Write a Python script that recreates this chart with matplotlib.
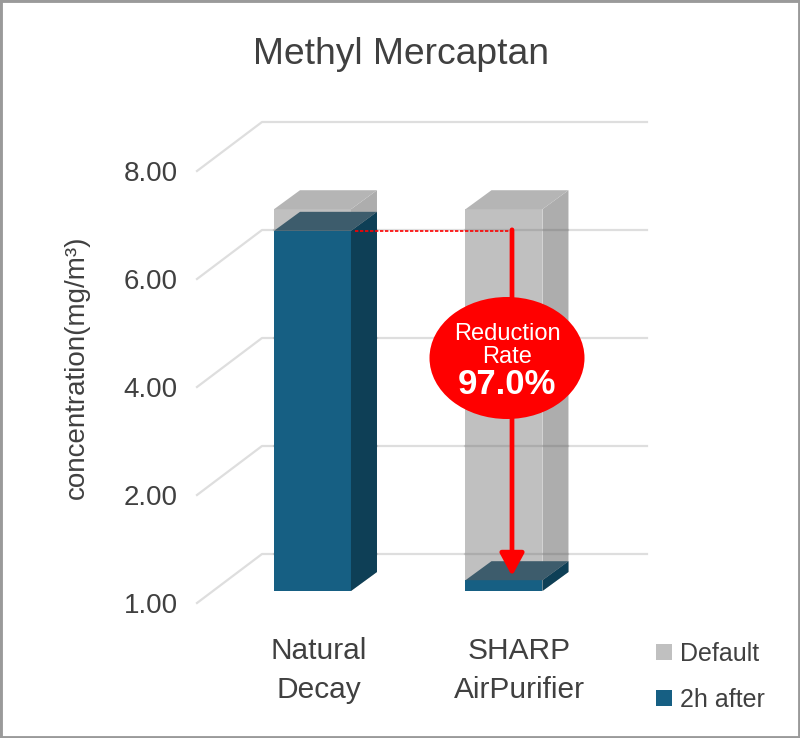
"""Methyl Mercaptan pseudo-3D bar chart. Output: out.png"""
import numpy as np
import matplotlib
matplotlib.use("Agg")
import matplotlib.pyplot as plt
from matplotlib.lines import Line2D
from matplotlib.patches import Ellipse, Patch, Polygon, Rectangle
from matplotlib.transforms import Affine2D, IdentityTransform

plt.rcParams["font.family"] = ["Liberation Sans", "DejaVu Sans"]

W, H = 800, 738
TEXT = "#404040"
GRID = "#dedede"
RED = "#ff0000"

categories = ["Natural\nDecay", "SHARP\nAirPurifier"]
default_vals = [7.07, 7.07]
after_vals = [6.67, 1.10]
tick_vals = [1, 2, 4, 6, 8]
tick_labels = ["1.00", "2.00", "4.00", "6.00", "8.00"]
series_names = ["Default", "2h after"]
reduction = "97.0%"

# pixel offsets of the fake depth
WALL = (65, 49)
FRONT = (16, 12)
BACK = (42, 31)
BAR_W = 0.402


def forward(v):
    return np.interp(v, tick_vals, np.arange(len(tick_vals)))


def inverse(p):
    return np.interp(p, np.arange(len(tick_vals)), tick_vals)


fig = plt.figure(figsize=(W / 100, H / 100), dpi=100, facecolor="white")
ax = fig.add_axes([197 / W, (H - 603) / H, 385 / W, 432 / H])
ax.set_yscale("function", functions=(forward, inverse))
ax.set_xlim(-0.5196, 1.491)
ax.set_ylim(1, 8)
ax.patch.set_visible(False)
for spine in ax.spines.values():
    spine.set_visible(False)
ax.set_xticks([])
ax.yaxis.set_major_locator(matplotlib.ticker.FixedLocator(tick_vals))
ax.yaxis.set_major_formatter(matplotlib.ticker.FixedFormatter(tick_labels))
ax.yaxis.set_minor_locator(matplotlib.ticker.NullLocator())
ax.tick_params(axis="y", length=0, pad=14, labelsize=20, labelcolor=TEXT)

pix = IdentityTransform()


def to_px(x, v):
    return ax.transData.transform((x, v))


def add_poly(pts, color, z):
    ax.add_patch(Polygon(pts, closed=True, facecolor=color, edgecolor="none",
                         transform=pix, clip_on=False, zorder=z))


def box(x, v, front, side, top, z):
    # front face through the axes, moved back by the depth offset
    ax.bar(x, v - 1, bottom=1, width=BAR_W, color=front, zorder=z, clip_on=False,
           transform=ax.transData + Affine2D().translate(*FRONT))
    bl = to_px(x - BAR_W / 2, 1)
    br = to_px(x + BAR_W / 2, 1)
    tl = to_px(x - BAR_W / 2, v)
    tr = to_px(x + BAR_W / 2, v)
    f, b = np.array(FRONT), np.array(BACK)
    add_poly([br + f, br + b, tr + b, tr + f], side, z)
    add_poly([tl + f, tr + f, tr + b, tl + b], top, z)


# grid: front edge, then along the back wall
for v in tick_vals:
    x0, y0 = to_px(-0.5196, v)
    x1, y1 = to_px(1.491, v)
    ax.add_line(Line2D([x0, x0 + WALL[0], x1 + WALL[0]], [y0, y0 + WALL[1], y1 + WALL[1]],
                       color=GRID, lw=1.6, transform=pix, clip_on=False, zorder=1))

for i in range(2):
    box(i, default_vals[i], "#c0c0c0", "#adadad", "#b5b5b5", 2)
    # grid shows faintly through the grey boxes
    base_y = to_px(i, 1)[1] + FRONT[1]
    top_y = to_px(i, default_vals[i])[1] + FRONT[1]
    for v in tick_vals:
        wall_y = to_px(i, v)[1] + WALL[1]
        if base_y <= wall_y <= top_y:
            left = to_px(i - BAR_W / 2, v)[0] + FRONT[0]
            right = to_px(i + BAR_W / 2, v)[0] + BACK[0]
            ax.add_line(Line2D([left, right], [wall_y, wall_y], color="black", alpha=0.1, lw=1.6,
                               transform=pix, clip_on=False, zorder=2.5))
for i in range(2):
    box(i, after_vals[i], "#165f83", "#0e3f56", "#3d5c6c", 3)

# reduction marker
arrow_x = 512
top_y = to_px(1, after_vals[0])[1] + FRONT[1]
end_y = H - 576
ax.add_line(Line2D([355, arrow_x], [top_y, top_y], color=RED, lw=1.2, ls=(0, (2, 1)),
                   transform=pix, clip_on=False, zorder=4))
ax.annotate("", xy=(arrow_x, end_y), xytext=(arrow_x, top_y + 1),
            xycoords="figure pixels", textcoords="figure pixels", zorder=5,
            arrowprops=dict(arrowstyle="-|>,head_width=0.46,head_length=0.85", color=RED,
                            lw=3.4, shrinkA=0, shrinkB=0, mutation_scale=16))
ax.add_patch(Ellipse((507, H - 358), 155, 122, facecolor=RED, edgecolor="none",
                     transform=pix, clip_on=False, zorder=6))
fig.text(507 / W, 1 - 334 / H, "Reduction", color="white", fontsize=17, ha="center", va="center", zorder=7)
fig.text(507 / W, 1 - 357 / H, "Rate", color="white", fontsize=17, ha="center", va="center", zorder=7)
fig.text(507 / W, 1 - 385 / H, reduction, color="white", fontsize=25, fontweight="bold",
         ha="center", va="center", zorder=7)

# texts
fig.text(401 / W, 1 - 54 / H, "Methyl Mercaptan", color=TEXT, fontsize=26.8, ha="center", va="center")
fig.text(77 / W, 1 - 367 / H, "concentration(mg/m³)", color=TEXT, fontsize=20, rotation=90,
         ha="center", va="center")
label_x = [319, 519]
for lx, cat in zip(label_x, categories):
    first, second = cat.split("\n")
    fig.text(lx / W, 1 - 651 / H, first, color=TEXT, fontsize=21.5, ha="center", va="center")
    fig.text(lx / W, 1 - 690 / H, second, color=TEXT, fontsize=21.5, ha="center", va="center")

handles = [Patch(facecolor="#c0c0c0", label=series_names[0]),
           Patch(facecolor="#165f83", label=series_names[1])]
fig.legend(handles=handles, loc="center left", bbox_to_anchor=(656 / W, 1 - 677 / H),
           frameon=False, fontsize=18, handlelength=0.62, handleheight=0.62, handletextpad=0.36,
           labelspacing=0.88, labelcolor=TEXT, borderpad=0, borderaxespad=0)

# outer frame
fig.add_artist(Rectangle((0, 0), 1, 1, transform=fig.transFigure, facecolor="none",
                         edgecolor="#9a9a9a", lw=3.5, clip_on=True))

fig.savefig("out.png", dpi=100, facecolor="white")
plt.close(fig)
